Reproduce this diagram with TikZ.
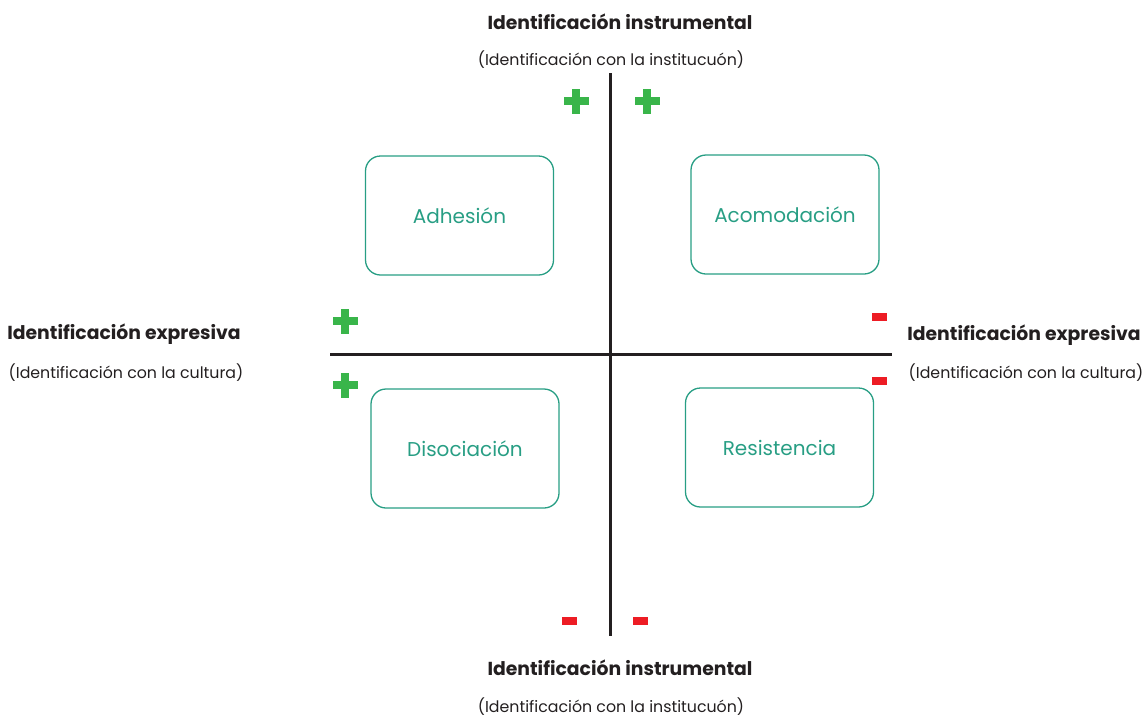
\documentclass[tikz,border=0pt]{standalone}
\usepackage{fontspec}
\setmainfont{Poppins}
\definecolor{teal1}{RGB}{40,158,132}
\definecolor{plusgreen}{RGB}{57,181,74}
\definecolor{minusred}{RGB}{237,28,36}
\definecolor{axisc}{RGB}{35,31,32}
\begin{document}
\begin{tikzpicture}[x=1pt,y=-1pt,
  quad/.style={draw=teal1,line width=1.3pt,rounded corners=15pt,minimum width=188pt,minimum height=119pt,text=teal1,font=\fontsize{20}{23}\selectfont},
  axis/.style={draw=axisc,line width=3pt},
  title/.style={font=\fontsize{18.8}{22}\selectfont\bfseries,text=axisc,inner sep=0pt},
  sub/.style={font=\fontsize{15.8}{19}\selectfont,text=axisc,inner sep=0pt},
]
\useasboundingbox (0,0) rectangle (1148,718);
\coordinate (vt) at (610,73);
\coordinate (vb) at (610,636);
\coordinate (hl) at (330,354);
\coordinate (hr) at (892,354);
\draw[axis] (vt) -- (vb);
\draw[axis] (hl) -- (hr);

\node[quad] (adh) at (459.5,215.5) {Adhesión};
\node[quad] (aco) at (785,214.5) {Acomodación};
\node[quad] (dis) at (465,448.5) {Disociación};
\node[quad] (res) at (779.5,447.5) {Resistencia};

\node[title] (tt) at (620,22) {Identificación instrumental};
\node[sub] (ts) at (611,60) {(Identificación con la institucuón)};
\node[title] (bt) at (620,668) {Identificación instrumental};
\node[sub] (bs) at (611,707) {(Identificación con la institucuón)};
\node[title] (lt) at (124,334) {Identificación expresiva};
\node[sub] (ls) at (126,373) {(Identificación con la cultura)};
\node[title] (rt) at (1024,335) {Identificación expresiva};
\node[sub] (rs) at (1026,373) {(Identificación con la cultura)};

% plus signs
\foreach \n/\x/\y in {p1/576/101, p2/647/101, p3/345/321, p4/345/385}{
  \coordinate (\n) at (\x,\y);
  \fill[plusgreen] ([xshift=-12.5pt,yshift=-4pt]\n) rectangle ([xshift=12.5pt,yshift=4pt]\n);
  \fill[plusgreen] ([xshift=-4pt,yshift=-12.5pt]\n) rectangle ([xshift=4pt,yshift=12.5pt]\n);
}
% minus signs
\foreach \n/\x/\y in {m1/879/317, m2/879/381, m3/569.5/621, m4/640.5/621}{
  \coordinate (\n) at (\x,\y);
  \fill[minusred] ([xshift=-7.5pt,yshift=-4pt]\n) rectangle ([xshift=7.5pt,yshift=4pt]\n);
}
\end{tikzpicture}
\end{document}
